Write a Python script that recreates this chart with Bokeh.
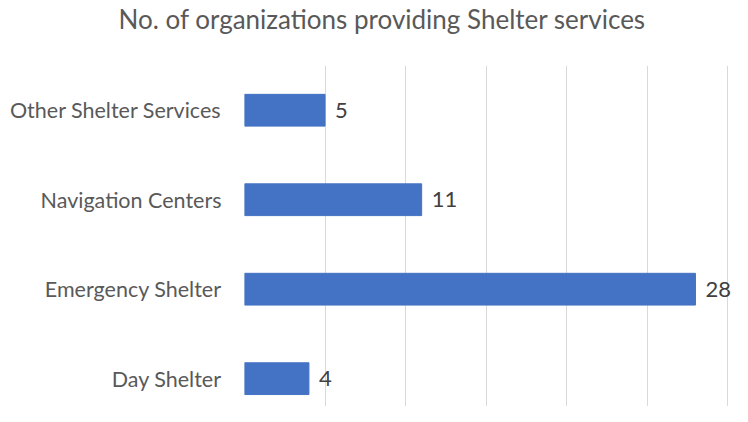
from bokeh.plotting import figure
from bokeh.models import Range1d, FixedTicker, LabelSet, ColumnDataSource, Title
from bokeh.core.properties import value
from bokeh.embed import file_html
from bokeh.resources import INLINE

# Data (bottom to top)
categories = ["Day Shelter", "Emergency Shelter", "Navigation Centers", "Other Shelter Services"]
counts = [4, 28, 11, 5]
grid_ticks = [0, 5, 10, 15, 20, 25, 30]
title_text = "No. of organizations providing Shelter services"

FONT = "Lato"
positions = list(range(len(categories)))

W, H = 732, 406
LEFT, TOP = 244, 63
frame_h = H - TOP

src = ColumnDataSource(dict(pos=positions, val=counts, lab=[str(c) for c in counts]))

p = figure(width=W, height=H, output_backend="svg", toolbar_location=None,
           x_range=Range1d(0, 30.3), y_range=Range1d(3.5 - frame_h / 90.0, 3.5),
           min_border_left=LEFT, min_border_right=0, min_border_top=TOP, min_border_bottom=0)

p.hbar(y="pos", right="val", left=0, height=0.355, source=src,
       fill_color="#4472C4", line_color="#4472C4")

labels = LabelSet(x="val", y="pos", text="lab", source=src, x_offset=10,
                  text_baseline="middle", text_align="left",
                  text_font=value(FONT), text_font_size=value("22px"), text_color=value("#404040"))
p.add_layout(labels)

p.xaxis.visible = False
p.ygrid.grid_line_color = None
p.xgrid.ticker = FixedTicker(ticks=grid_ticks)
p.xgrid.grid_line_color = "#D9D9D9"
p.xgrid.grid_line_width = 1

ax = p.yaxis[0]
ax.ticker = FixedTicker(ticks=positions)
ax.major_label_overrides = {i: c for i, c in zip(positions, categories)}
ax.axis_line_color = None
ax.major_tick_line_color = None
ax.minor_tick_line_color = None
ax.major_tick_out = 0
ax.major_tick_in = 0
ax.major_label_standoff = 23
ax.major_label_text_font = FONT
ax.major_label_text_font_size = "21.5px"
ax.major_label_text_color = "#595959"

p.outline_line_color = None

# spacer panel between the title and the plot area
spacer = Title(text=" ", text_font=FONT, text_font_size="24px", standoff=0,
               text_color="#FFFFFF")
p.add_layout(spacer, "above")

main_title = Title(text=title_text, align="left", vertical_align="bottom",
                   offset=118 - LEFT, standoff=0, text_font=FONT,
                   text_font_size="26px", text_font_style="normal", text_color="#595959")
p.add_layout(main_title, "above")

open("out.html", "w").write(file_html(p, INLINE))
